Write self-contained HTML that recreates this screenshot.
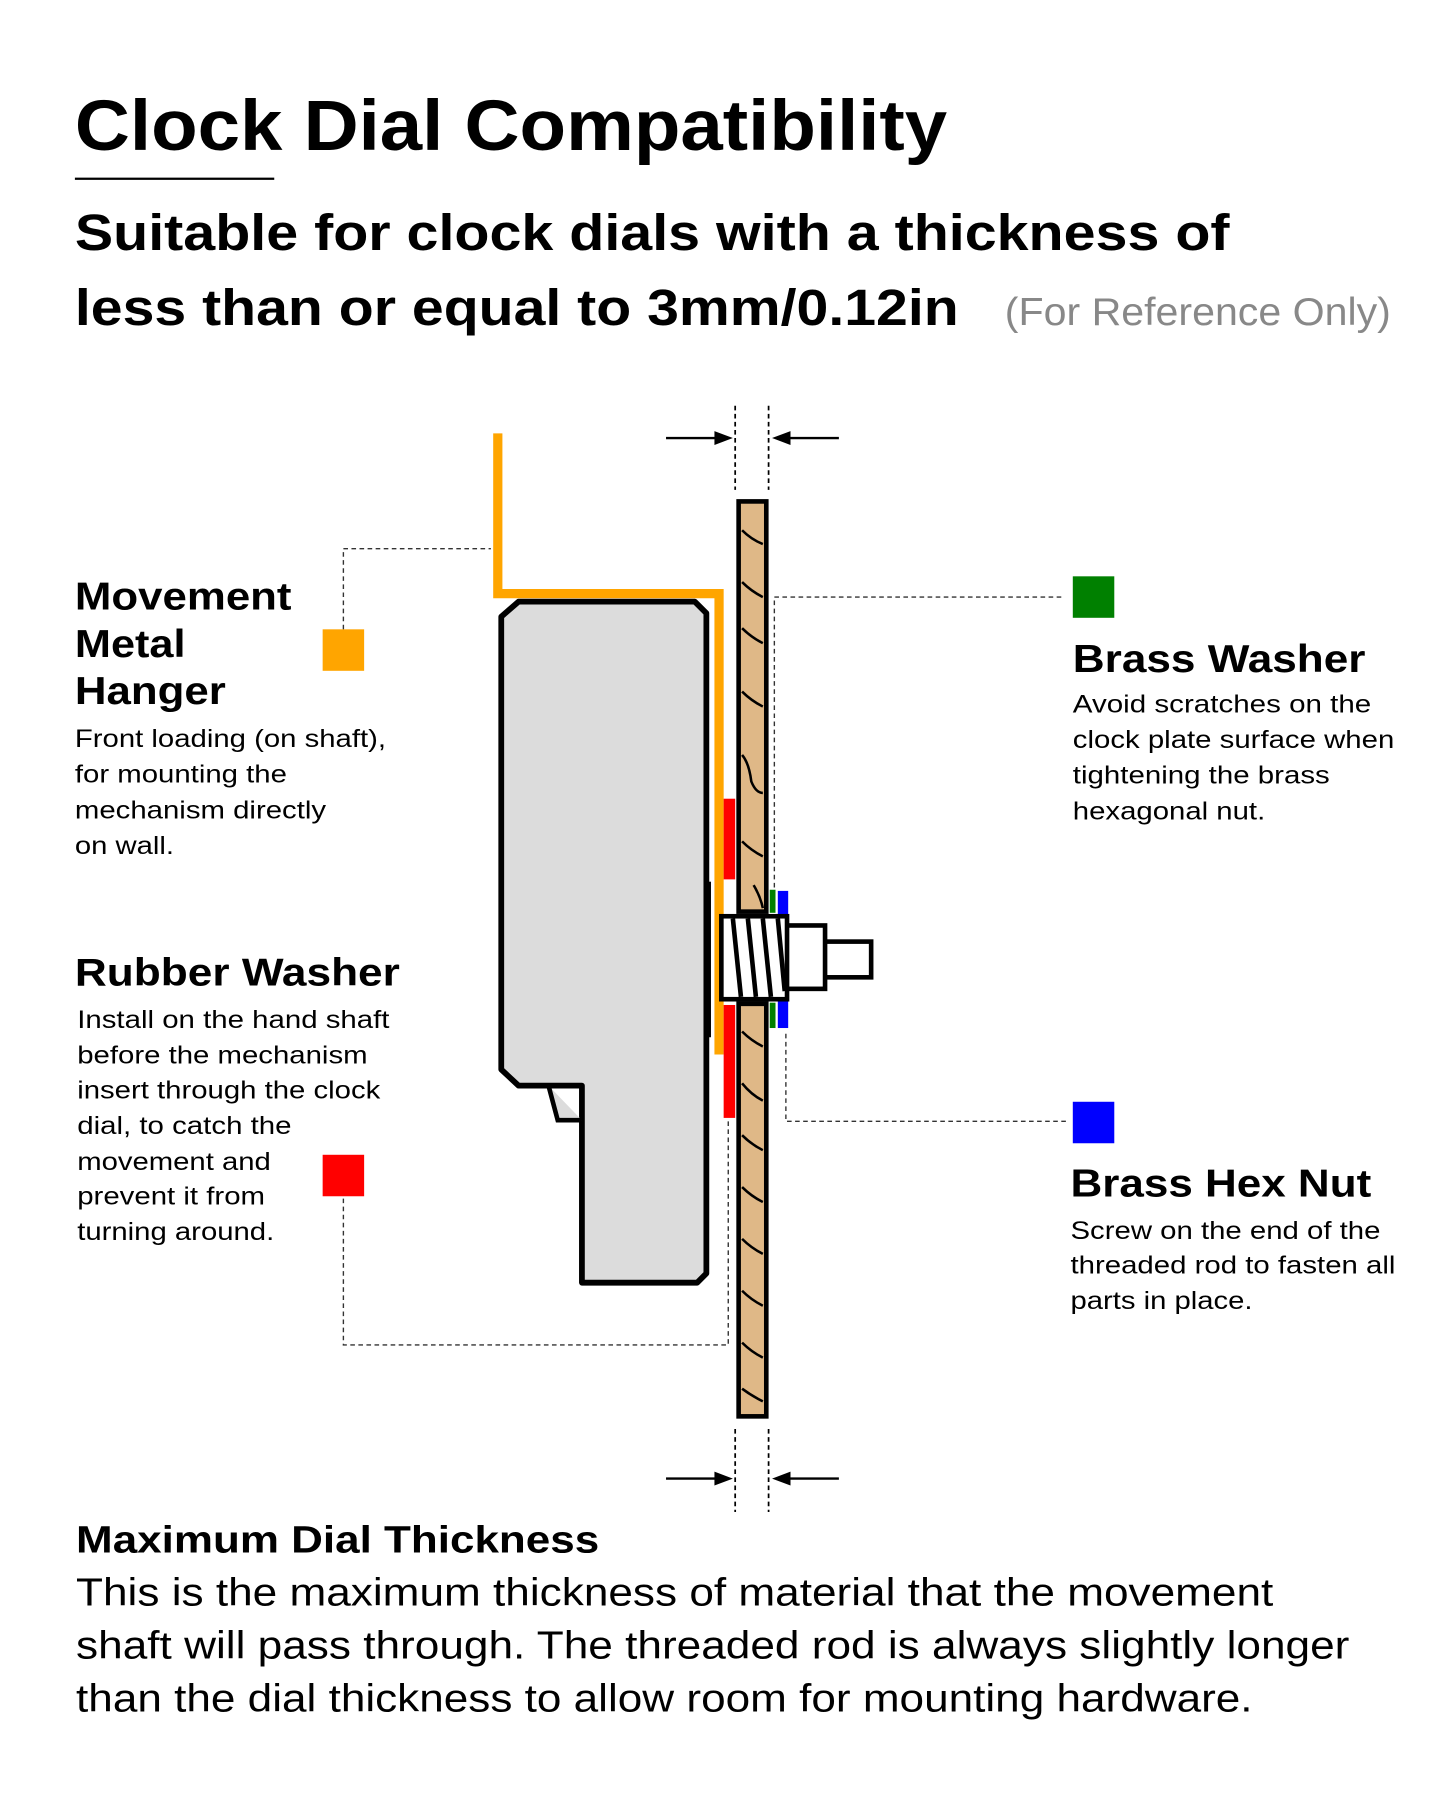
<!DOCTYPE html>
<html><head><meta charset="utf-8"><style>
html,body{margin:0;padding:0;background:#fff;}
svg{display:block;}
text{font-family:"Liberation Sans",Arial,sans-serif;}
.b{font-weight:bold;}
</style></head><body>
<svg width="1445" height="1806" viewBox="0 0 1254 1567" xmlns="http://www.w3.org/2000/svg">
<rect width="1254" height="1567" fill="#fff"/>
<text x="65" y="130" class="b" font-size="62" textLength="757" lengthAdjust="spacingAndGlyphs">Clock Dial Compatibility</text>
<line x1="65" y1="155" x2="238" y2="155" stroke="#000" stroke-width="2"/>
<text x="65" y="217" class="b" font-size="44" textLength="1002" lengthAdjust="spacingAndGlyphs">Suitable for clock dials with a thickness of</text>
<text x="65" y="282" class="b" font-size="44" textLength="767" lengthAdjust="spacingAndGlyphs">less than or equal to 3mm/0.12in</text>
<text x="872" y="282" font-size="34" fill="#888" textLength="335" lengthAdjust="spacingAndGlyphs">(For Reference Only)</text>

<g stroke="#000" stroke-width="1.5" stroke-dasharray="4,3">
<line x1="638" y1="352" x2="638" y2="425"/><line x1="667" y1="352" x2="667" y2="425"/>
<line x1="638" y1="1240" x2="638" y2="1312"/><line x1="667" y1="1240" x2="667" y2="1312"/>
</g>
<g stroke="#000" stroke-width="2">
<line x1="578" y1="380" x2="624" y2="380"/><line x1="682" y1="380" x2="728" y2="380"/>
<line x1="578" y1="1283" x2="624" y2="1283"/><line x1="682" y1="1283" x2="728" y2="1283"/>
</g>
<g fill="#000">
<polygon points="636,380 620,374 620,386"/><polygon points="670,380 686,374 686,386"/>
<polygon points="636,1283 620,1277 620,1289"/><polygon points="670,1283 686,1277 686,1289"/>
</g>

<g fill="none" stroke="#333" stroke-width="1.2" stroke-dasharray="4,3">
<polyline points="298,546 298,476 426,476"/>
<polyline points="921,518 672,518 672,770"/>
<polyline points="925,973 682,973 682,895"/>
<polyline points="298,1040 298,1167 632,1167 632,972"/>
</g>
<rect x="280" y="546" width="36" height="36" fill="#ffa500"/>
<rect x="931" y="500" width="36" height="36" fill="#008000"/>
<rect x="931" y="956" width="36" height="36" fill="#0000ff"/>
<rect x="280" y="1002" width="36" height="36" fill="#ff0000"/>

<path d="M435,535 L450,522 L603,522 L613,532 L613,1105 L605,1113 L505,1113 L505,942 L450,942 L435,928 Z" fill="#dcdcdc" stroke="#000" stroke-width="5" stroke-linejoin="round"/>
<path d="M476,942 L484,972 L505,972" fill="#dcdcdc" stroke="#000" stroke-width="4"/>
<rect x="611" y="765" width="6" height="135" fill="#000"/>
<polyline points="432,376 432,515 624,515 624,915" fill="none" stroke="#ffa500" stroke-width="8"/>
<rect x="628" y="693" width="10" height="70" fill="#ff0000"/>
<rect x="628" y="872" width="10" height="98" fill="#ff0000"/>

<rect x="641" y="435" width="24" height="356" fill="#dfb887" stroke="#000" stroke-width="4"/>
<rect x="641" y="871" width="24" height="358" fill="#dfb887" stroke="#000" stroke-width="4"/>
<g fill="none" stroke="#000" stroke-width="2.2">
<path d="M644,460 Q652,468 662,472"/><path d="M644,505 Q652,513 662,518"/>
<path d="M644,545 Q652,553 662,558"/><path d="M644,600 Q652,608 662,613"/>
<path d="M644,655 Q650,662 652,678 Q656,688 662,688"/><path d="M644,730 Q652,738 662,743"/>
<path d="M654,768 Q660,778 662,788"/>
<path d="M644,895 Q652,903 662,908"/><path d="M644,940 Q652,950 662,955"/>
<path d="M644,985 Q652,993 662,998"/><path d="M644,1030 Q652,1038 662,1043"/>
<path d="M644,1075 Q652,1083 662,1088"/><path d="M644,1120 Q652,1128 662,1133"/>
<path d="M644,1165 Q652,1173 662,1178"/><path d="M644,1205 Q652,1211 662,1216"/>
</g>

<rect x="668" y="772" width="5" height="20" fill="#008000"/>
<rect x="668" y="870" width="5" height="22" fill="#008000"/>
<rect x="675" y="773" width="9" height="22" fill="#0000ff"/>
<rect x="675" y="868" width="9" height="24" fill="#0000ff"/>

<rect x="715" y="817" width="41" height="31" fill="#fff" stroke="#000" stroke-width="4"/>
<rect x="682" y="803" width="34" height="55" fill="#fff" stroke="#000" stroke-width="4"/>
<rect x="626" y="795" width="57" height="72" fill="#fff" stroke="#000" stroke-width="4"/>
<g stroke="#000" stroke-width="4">
<line x1="636" y1="797" x2="643" y2="865"/><line x1="649" y1="797" x2="656" y2="865"/>
<line x1="662" y1="797" x2="669" y2="865"/><line x1="675" y1="797" x2="681" y2="860"/>
</g>

<text x="65" y="529" class="b" font-size="34" textLength="188" lengthAdjust="spacingAndGlyphs">Movement</text>
<text x="65" y="570" class="b" font-size="34" textLength="96" lengthAdjust="spacingAndGlyphs">Metal</text>
<text x="65" y="611" class="b" font-size="34" textLength="131" lengthAdjust="spacingAndGlyphs">Hanger</text>
<g font-size="22">
<text x="65" y="648" textLength="270" lengthAdjust="spacingAndGlyphs">Front loading (on shaft),</text>
<text x="65" y="679" textLength="184" lengthAdjust="spacingAndGlyphs">for mounting the</text>
<text x="65" y="710" textLength="218" lengthAdjust="spacingAndGlyphs">mechanism directly</text>
<text x="65" y="741" textLength="86" lengthAdjust="spacingAndGlyphs">on wall.</text>
</g>
<text x="65" y="855" class="b" font-size="34" textLength="282" lengthAdjust="spacingAndGlyphs">Rubber Washer</text>
<g font-size="22">
<text x="67" y="892" textLength="271" lengthAdjust="spacingAndGlyphs">Install on the hand shaft</text>
<text x="67" y="923" textLength="252" lengthAdjust="spacingAndGlyphs">before the mechanism</text>
<text x="67" y="953" textLength="263" lengthAdjust="spacingAndGlyphs">insert through the clock</text>
<text x="67" y="984" textLength="186" lengthAdjust="spacingAndGlyphs">dial, to catch the</text>
<text x="67" y="1015" textLength="168" lengthAdjust="spacingAndGlyphs">movement and</text>
<text x="67" y="1045" textLength="163" lengthAdjust="spacingAndGlyphs">prevent it from</text>
<text x="67" y="1076" textLength="171" lengthAdjust="spacingAndGlyphs">turning around.</text>
</g>

<text x="931" y="583" class="b" font-size="34" textLength="254" lengthAdjust="spacingAndGlyphs">Brass Washer</text>
<g font-size="22">
<text x="931" y="618" textLength="259" lengthAdjust="spacingAndGlyphs">Avoid scratches on the</text>
<text x="931" y="649" textLength="279" lengthAdjust="spacingAndGlyphs">clock plate surface when</text>
<text x="931" y="680" textLength="223" lengthAdjust="spacingAndGlyphs">tightening the brass</text>
<text x="931" y="711" textLength="167" lengthAdjust="spacingAndGlyphs">hexagonal nut.</text>
</g>
<text x="929" y="1038" class="b" font-size="34" textLength="261" lengthAdjust="spacingAndGlyphs">Brass Hex Nut</text>
<g font-size="22">
<text x="929" y="1075" textLength="269" lengthAdjust="spacingAndGlyphs">Screw on the end of the</text>
<text x="929" y="1105" textLength="282" lengthAdjust="spacingAndGlyphs">threaded rod to fasten all</text>
<text x="929" y="1136" textLength="158" lengthAdjust="spacingAndGlyphs">parts in place.</text>
</g>

<text x="66" y="1347" class="b" font-size="33" textLength="454" lengthAdjust="spacingAndGlyphs">Maximum Dial Thickness</text>
<g font-size="34">
<text x="66" y="1393" textLength="1039" lengthAdjust="spacingAndGlyphs">This is the maximum thickness of material that the movement</text>
<text x="66" y="1439" textLength="1105" lengthAdjust="spacingAndGlyphs">shaft will pass through. The threaded rod is always slightly longer</text>
<text x="66" y="1485" textLength="1021" lengthAdjust="spacingAndGlyphs">than the dial thickness to allow room for mounting hardware.</text>
</g>
</svg>
</body></html>
